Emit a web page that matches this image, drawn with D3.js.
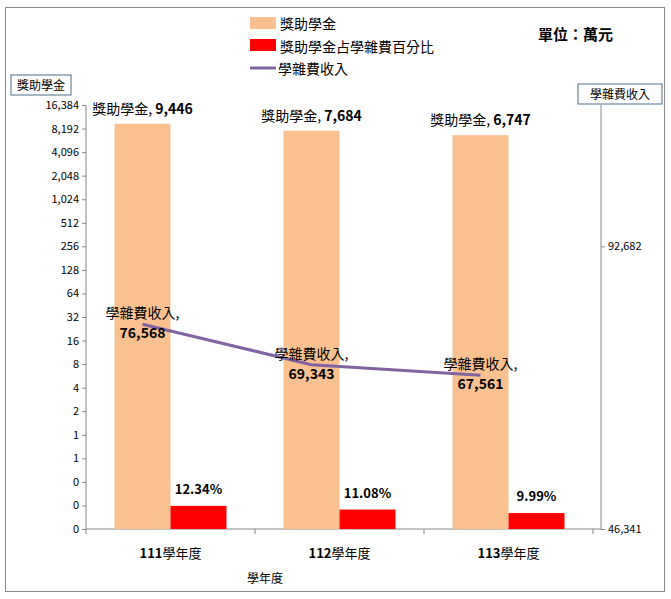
<!DOCTYPE html>
<html><head><meta charset="utf-8">
<script src="https://cdn.jsdelivr.net/npm/d3@7"></script>
<style>body{margin:0;background:#fff}text{font-family:"Noto Sans CJK TC","Liberation Sans",sans-serif}</style>
</head><body>
<script>
const years = ["111學年度", "112學年度", "113學年度"];
const awards = [9446, 7684, 6747];
const shares = [0.1234, 0.1108, 0.0999];
const shareLabels = ["12.34%", "11.08%", "9.99%"];
const tuition = [76568, 69343, 67561];
const leftTicks = d3.range(14, -5, -1).map(e => Math.pow(2, e));
const rightTicks = [46341, 92682];

const svg = d3.select("body").append("svg").attr("width", 671).attr("height", 599);
svg.append("rect").attr("x", 5.5).attr("y", 7.5).attr("width", 659).attr("height", 584)
  .attr("fill", "none").attr("stroke", "#888");

const L = 86, R = 593, RA = 601, T = 105, B = 529;
const x = d3.scaleBand().domain(years).range([L, R]);
const yL = d3.scaleLog().base(2).domain([Math.pow(2, -4), Math.pow(2, 14)]).range([B, T]);
const yR = d3.scaleLog().base(2).domain([Math.pow(2, 15.5), Math.pow(2, 17)]).range([B, T]);
const fmt = d3.format(",");

const axL = svg.append("g").attr("transform", `translate(${L},0)`)
  .call(d3.axisLeft(yL).tickValues(leftTicks).tickSize(4).tickFormat(d => fmt(Math.round(d))));
const axR = svg.append("g").attr("transform", `translate(${RA},0)`)
  .call(d3.axisRight(yR).tickValues(rightTicks).tickSize(4).tickFormat(fmt));
const axB = svg.append("g").attr("transform", `translate(0,${B})`)
  .call(d3.axisBottom(x).tickSize(0).tickFormat(""));
[axL, axR, axB].forEach(g => {
  g.selectAll("path,line").attr("stroke", "#888");
  g.selectAll("text").attr("font-size", 11).attr("fill", "#000");
});
axR.select(".domain").attr("d", `M0,${T}V${B}`);
axL.select(".domain").attr("d", `M0,${T}V${B}`);
axB.select(".domain").attr("d", `M${L},0H${RA}`);
// category separators
svg.append("g").selectAll("line").data(d3.range(4)).enter().append("line")
  .attr("x1", i => L + i * x.step()).attr("x2", i => L + i * x.step())
  .attr("y1", B).attr("y2", B + 5).attr("stroke", "#888");
svg.append("g").selectAll("text").data(years).enter().append("text")
  .attr("x", d => x(d) + x.bandwidth() / 2).attr("y", B + 29).attr("text-anchor", "middle")
  .attr("font-size", 13).html(d => `<tspan font-weight="bold">${d.slice(0,3)}</tspan>${d.slice(3)}`);
svg.append("text").attr("x", 265).attr("y", 583).attr("text-anchor", "middle").attr("font-size", 12).text("學年度");

const bw = 56;
const cx = i => x(years[i]) + x.bandwidth() / 2;
svg.append("g").selectAll("rect").data(awards).enter().append("rect")
  .attr("x", (d, i) => cx(i) - bw).attr("width", bw)
  .attr("y", d => yL(d)).attr("height", d => B - yL(d)).attr("fill", "#fac090");
svg.append("g").selectAll("rect").data(shares).enter().append("rect")
  .attr("x", (d, i) => cx(i)).attr("width", bw)
  .attr("y", d => yL(d)).attr("height", d => B - yL(d)).attr("fill", "#ff0000");

svg.append("path").datum(tuition)
  .attr("d", d3.line().x((d, i) => cx(i) - bw / 2).y(d => yR(d)))
  .attr("fill", "none").attr("stroke", "#8064a2").attr("stroke-width", 3);

// labels
svg.append("g").selectAll("text").data(awards).enter().append("text")
  .attr("x", (d, i) => cx(i) - bw / 2).attr("y", d => yL(d) - 10).attr("text-anchor", "middle")
  .attr("font-size", 14).html(d => `獎助學金, <tspan font-weight="bold">${fmt(d)}</tspan>`);
svg.append("g").selectAll("text").data(shareLabels).enter().append("text")
  .attr("x", (d, i) => cx(i) + bw / 2).attr("y", (d, i) => yL(shares[i]) - 12).attr("text-anchor", "middle")
  .attr("font-size", 13).attr("font-weight", "bold").text(d => d);
const tl = svg.append("g").selectAll("g").data(tuition).enter().append("g")
  .attr("transform", (d, i) => `translate(${cx(i) - bw / 2},${yR(d)})`);
tl.append("text").attr("y", -6).attr("text-anchor", "middle").attr("font-size", 14).text("學雜費收入,");
tl.append("text").attr("y", 14).attr("text-anchor", "middle").attr("font-size", 14).attr("font-weight", "bold").text(d => fmt(d));

// axis titles
function boxTitle(xx, yy, w, t) {
  svg.append("rect").attr("x", xx).attr("y", yy).attr("width", w).attr("height", 20)
    .attr("fill", "#fff").attr("stroke", "#4f6d8a");
  svg.append("text").attr("x", xx + w / 2).attr("y", yy + 15).attr("text-anchor", "middle")
    .attr("font-size", 12).text(t);
}
boxTitle(11, 75, 60, "獎助學金");
boxTitle(578, 84, 84, "學雜費收入");

// legend
const leg = svg.append("g").attr("transform", "translate(250,16)");
leg.append("rect").attr("x", 0).attr("y", 1).attr("width", 26).attr("height", 12).attr("fill", "#fac090");
leg.append("text").attr("x", 30).attr("y", 13).attr("font-size", 14).text("獎助學金");
leg.append("rect").attr("x", 0).attr("y", 23).attr("width", 26).attr("height", 12).attr("fill", "#ff0000");
leg.append("text").attr("x", 30).attr("y", 36).attr("font-size", 14).text("獎助學金占學雜費百分比");
leg.append("line").attr("x1", 0).attr("x2", 26).attr("y1", 52).attr("y2", 52).attr("stroke", "#8064a2").attr("stroke-width", 3);
leg.append("text").attr("x", 28).attr("y", 58).attr("font-size", 14).text("學雜費收入");
svg.append("text").attr("x", 538).attr("y", 40).attr("font-size", 15).attr("font-weight", "bold").text("單位：萬元");
</script>
</body></html>
